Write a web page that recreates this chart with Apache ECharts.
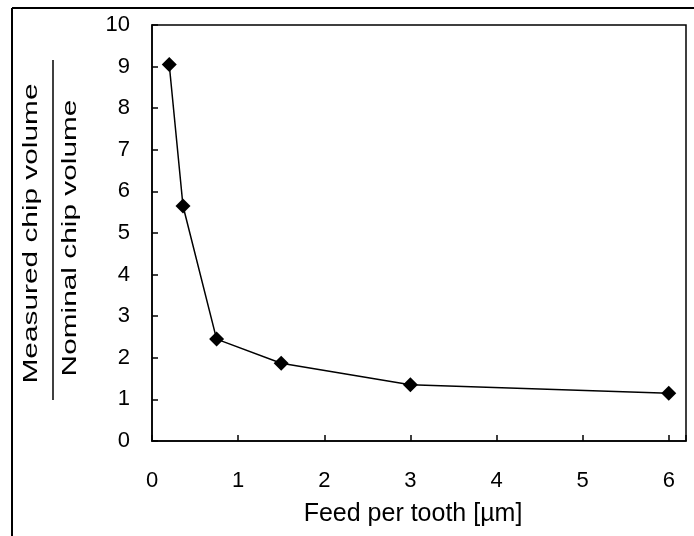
<!DOCTYPE html>
<html>
<head>
<meta charset="utf-8">
<script src="https://cdn.jsdelivr.net/npm/echarts@6/dist/echarts.min.js"></script>
<style>
html,body{margin:0;padding:0;background:#fff;}
#chart{width:694px;height:536px;}
</style>
</head>
<body>
<div id="chart"></div>
<script>
const feed = [0.2, 0.36, 0.75, 1.5, 3, 6];
const ratio = [9.05, 5.65, 2.45, 1.87, 1.35, 1.15];
const xTitle = 'Feed per tooth [µm]';
const yTitleTop = 'Measured chip volume';
const yTitleBottom = 'Nominal chip volume';

const FONT = '"Liberation Sans", Arial, sans-serif';
const chart = echarts.init(document.getElementById('chart'), null, {renderer: 'canvas'});
chart.setOption({
  animation: false,
  backgroundColor: '#fff',
  grid: {left: 152, top: 25, right: 8, bottom: 95, show: true, borderColor: '#000', borderWidth: 1.5, backgroundColor: 'transparent'},
  xAxis: {
    type: 'value', min: 0, max: 6.2, interval: 1,
    name: xTitle, nameLocation: 'middle', nameGap: 61,
    nameTextStyle: {fontFamily: FONT, fontSize: 25, color: '#000', padding: [0, 12, 0, 0]},
    axisLine: {show: true, lineStyle: {color: '#000', width: 1.5}},
    axisTick: {show: true, inside: true, length: 6, lineStyle: {color: '#000', width: 1.5}},
    axisLabel: {fontFamily: FONT, fontSize: 22, color: '#000', margin: 29,
      formatter: v => (Math.abs(v - Math.round(v)) < 1e-9 ? String(Math.round(v)) : '')},
    splitLine: {show: false}
  },
  yAxis: {
    type: 'value', min: 0, max: 10, interval: 1,
    axisLine: {show: true, lineStyle: {color: '#000', width: 1.5}},
    axisTick: {show: true, inside: true, length: 6, lineStyle: {color: '#000', width: 1.5}},
    axisLabel: {fontFamily: FONT, fontSize: 22, color: '#000', margin: 22},
    splitLine: {show: false}
  },
  series: [{
    type: 'line',
    data: feed.map((x, i) => [x, ratio[i]]),
    symbol: 'diamond', symbolSize: 15,
    itemStyle: {color: '#000'},
    lineStyle: {color: '#000', width: 1.5}
  }],
  graphic: [
    {type: 'line', shape: {x1: 12, y1: 8, x2: 700, y2: 8}, style: {stroke: '#000', lineWidth: 2}},
    {type: 'line', shape: {x1: 12, y1: 8, x2: 12, y2: 540}, style: {stroke: '#000', lineWidth: 2}},
    {type: 'line', shape: {x1: 53, y1: 60, x2: 53, y2: 400}, style: {stroke: '#000', lineWidth: 1.5}},
    {type: 'text', x: 31.5, y: 233.5, rotation: Math.PI / 2, scaleX: 1.42,
      style: {text: yTitleTop, fontFamily: FONT, fontSize: 21, fill: '#000', align: 'center', verticalAlign: 'middle'}},
    {type: 'text', x: 70, y: 238, rotation: Math.PI / 2, scaleX: 1.42,
      style: {text: yTitleBottom, fontFamily: FONT, fontSize: 21, fill: '#000', align: 'center', verticalAlign: 'middle'}}
  ]
});
</script>
</body>
</html>
